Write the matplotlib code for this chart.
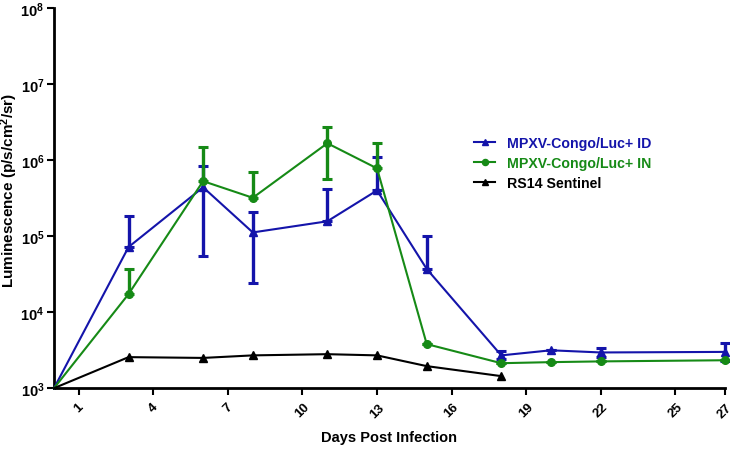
import matplotlib
matplotlib.use("Agg")
import matplotlib.pyplot as plt
from matplotlib.ticker import FixedLocator, FuncFormatter, NullLocator
import numpy as np

plt.rcParams['font.family'] = ['Liberation Sans', 'DejaVu Sans']
plt.rcParams['mathtext.fontset'] = 'custom'
plt.rcParams['mathtext.rm'] = 'Liberation Sans:bold'
plt.rcParams['mathtext.bf'] = 'Liberation Sans:bold'
plt.rcParams['mathtext.it'] = 'Liberation Sans:bold'

# Data
id_days = [0, 3, 6, 8, 11, 13, 15, 18, 20, 22, 27]
id_vals = [1e3, 7.2e4, 4.4e5, 1.12e5, 1.57e5, 4.0e5, 3.7e4, 2.7e3, 3.15e3, 2.95e3, 3.0e3]
id_err_hi = [1e3, 1.83e5, 8.3e5, 2.07e5, 4.2e5, 1.1e6, 1.0e5, 3.1e3, 3.15e3, 3.4e3, 3.9e3]
id_err_lo = [1e3, 7.2e4, 5.5e4, 2.4e4, 1.57e5, 4.0e5, 3.7e4, 2.4e3, 3.15e3, 2.6e3, 2.3e3]

in_days = [0, 3, 6, 8, 11, 13, 15, 18, 20, 22, 27]
in_vals = [1e3, 1.73e4, 5.3e5, 3.2e5, 1.67e6, 7.8e5, 3.8e3, 2.13e3, 2.2e3, 2.25e3, 2.33e3]
in_err_hi = [1e3, 3.7e4, 1.5e6, 6.9e5, 2.7e6, 1.7e6, 3.8e3, 2.13e3, 2.2e3, 2.25e3, 2.33e3]
in_err_lo = [1e3, 1.73e4, 5.3e5, 3.2e5, 5.6e5, 7.8e5, 3.8e3, 2.13e3, 2.2e3, 2.25e3, 2.33e3]

rs_days = [0, 3, 6, 8, 11, 13, 15, 18]
rs_vals = [1e3, 2.56e3, 2.5e3, 2.7e3, 2.8e3, 2.7e3, 1.95e3, 1.44e3]

x_ticks = [1, 4, 7, 10, 13, 16, 19, 22, 25, 27]
y_ticks = [1e3, 1e4, 1e5, 1e6, 1e7, 1e8]

labels = ['MPXV-Congo/Luc+ ID', 'MPXV-Congo/Luc+ IN', 'RS14 Sentinel']
blue = '#1414aa'
green = '#168a16'
black = '#000000'

fig = plt.figure(figsize=(7.3, 4.6), dpi=100)
ax = fig.add_axes([0.074, 0.154, 0.919, 0.826])
ax.set_yscale('log')

def draw(days, vals, lo, hi, color, marker, ms, label):
    v = np.array(vals)
    if lo is not None:
        yerr = np.vstack([v - np.array(lo), np.array(hi) - v])
        ax.errorbar(days[1:], v[1:], yerr=yerr[:, 1:], fmt='none', ecolor=color,
                    elinewidth=2.4, capsize=3.5, capthick=2.2, zorder=3, clip_on=False)
    ax.plot(days, v, color=color, lw=1.5, marker=marker, ms=ms, label=label,
            markevery=list(range(1, len(days))), zorder=4, clip_on=False)

draw(id_days, id_vals, id_err_lo, id_err_hi, blue, '^', 5.5, labels[0])
draw(in_days, in_vals, in_err_lo, in_err_hi, green, 'o', 5.5, labels[1])
draw(rs_days, rs_vals, None, None, black, '^', 5.5, labels[2])

ax.set_xlim(0, 27)
ax.set_ylim(1e3, 1e8)
ax.xaxis.set_major_locator(FixedLocator(x_ticks))
ax.yaxis.set_major_locator(FixedLocator(y_ticks))
ax.yaxis.set_minor_locator(NullLocator())
ax.yaxis.set_major_formatter(FuncFormatter(lambda v, p: r'$\mathbf{10^{%d}}$' % int(round(np.log10(v)))))

for s in ['top', 'right']:
    ax.spines[s].set_visible(False)
for s in ['left', 'bottom']:
    ax.spines[s].set_linewidth(2)
ax.tick_params(axis='both', width=1.5, length=5)
ax.tick_params(axis='y', labelsize=10.5, pad=2)
ax.tick_params(axis='x', labelsize=9.5, pad=4)
for lbl in ax.get_xticklabels():
    lbl.set_rotation(45)
    lbl.set_fontweight('bold')
    lbl.set_ha('center')
    lbl.set_va('top')

ax.set_xlabel('Days Post Infection', fontsize=10.5, fontweight='bold')
ax.xaxis.set_label_coords(0.5, -0.11)
ax.set_ylabel(r'Luminescence (p/s/cm$^{2}$/sr)', fontsize=11, fontweight='bold')
ax.yaxis.set_label_coords(-0.05, 0.524)

leg = ax.legend(loc='upper left', bbox_to_anchor=(0.607, 0.698), frameon=False,
                fontsize=10.2, handlelength=1.5, handletextpad=0.8, labelspacing=0.45,
                markerscale=0.8)
for t, c in zip(leg.get_texts(), [blue, green, black]):
    t.set_color(c)
    t.set_fontweight('bold')

fig.savefig('out.png', dpi=100)
